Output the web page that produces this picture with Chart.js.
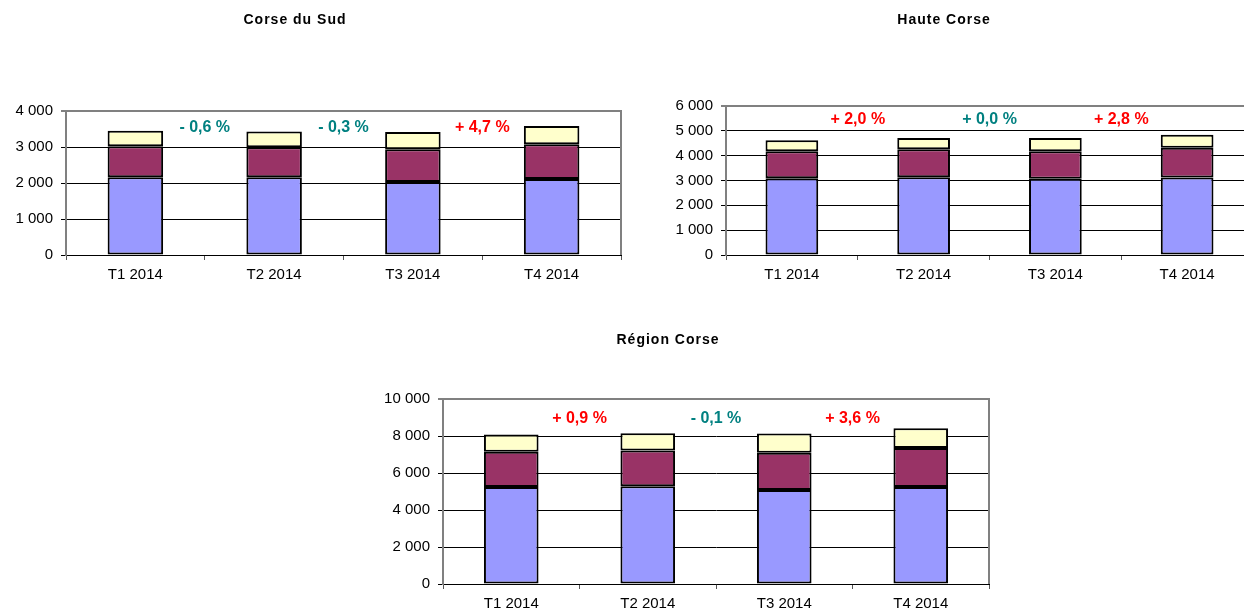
<!DOCTYPE html>
<html>
<head>
<meta charset="utf-8">
<script src="https://cdn.jsdelivr.net/npm/chart.js@4"></script>
<style>
  html, body { margin: 0; padding: 0; background: #fff; overflow: hidden; width: 1244px; height: 609px; position: relative; }
  canvas { position: absolute; }
</style>
</head>
<body>
<canvas id="sud" width="640" height="300" style="left:0px;top:0px"></canvas>
<canvas id="haute" width="620" height="300" style="left:650px;top:0px"></canvas>
<canvas id="region" width="640" height="300" style="left:360px;top:320px"></canvas>
<script>
// categories
const quarters = ['T1 2014', 'T2 2014', 'T3 2014', 'T4 2014'];

// Corse du Sud
const sudBlue = [2160, 2160, 2030, 2110];
const sudMaroon = [860, 830, 910, 965];
const sudYellow = [430, 440, 480, 505];
const sudChange = [-0.6, -0.3, 4.7];
const sudTicks = ['0', '1 000', '2 000', '3 000', '4 000'];

// Haute Corse
const hauteBlue = [3090, 3130, 3070, 3120];
const hauteMaroon = [1090, 1130, 1110, 1200];
const hauteYellow = [440, 450, 530, 520];
const hauteChange = [2.0, 0.0, 2.8];
const hauteTicks = ['0', '1 000', '2 000', '3 000', '4 000', '5 000', '6 000'];

// Région Corse
const regionBlue = [5250, 5290, 5080, 5250];
const regionMaroon = [1900, 1920, 2020, 2100];
const regionYellow = [930, 940, 1040, 1070];
const regionChange = [0.9, -0.1, 3.6];
const regionTicks = ['0', '2 000', '4 000', '6 000', '8 000', '10 000'];

const BLUE = '#9999FF', MAROON = '#993366', YELLOW = '#FFFFCC';

function fmtChange(v) {
  const s = Math.abs(v).toFixed(1).replace('.', ',');
  return (v < 0 ? '- ' : '+ ') + s + ' %';
}

const panelPlugin = {
  id: 'panel',
  afterDraw(chart, args, opts) {
    const ctx = chart.ctx;
    const area = chart.chartArea;
    const xs = chart.scales.x;
    ctx.save();
    // right border of the plot area
    ctx.strokeStyle = '#808080';
    ctx.lineWidth = 2;
    ctx.beginPath();
    ctx.moveTo(area.right, area.top - 1);
    ctx.lineTo(area.right, area.bottom);
    ctx.stroke();
    // title
    ctx.fillStyle = '#000';
    ctx.font = 'bold 14px "Liberation Sans", Arial, sans-serif';
    ctx.letterSpacing = '1px';
    ctx.textAlign = 'center';
    ctx.textBaseline = 'middle';
    ctx.fillText(opts.title, opts.titleX, opts.titleY);
    ctx.letterSpacing = '0px';
    // change labels between bars
    ctx.font = 'bold 16px "Liberation Sans", Arial, sans-serif';
    opts.changes.forEach((v, i) => {
      const x = (xs.getPixelForValue(i) + xs.getPixelForValue(i + 1)) / 2;
      ctx.fillStyle = v > 0 ? '#FF0000' : '#008080';
      ctx.fillText(fmtChange(v), x, area.top + opts.labelOffset);
    });
    ctx.restore();
  }
};

function makeChart(id, blue, maroon, yellow, changes, ticks, cfg) {
  const ds = (data, color) => ({
    data: data,
    backgroundColor: color,
    borderColor: '#000',
    borderWidth: 2,
    borderSkipped: false,
    inflateAmount: 0,
    barPercentage: 0.4,
    categoryPercentage: 1
  });
  return new Chart(document.getElementById(id), {
    type: 'bar',
    data: {
      labels: quarters,
      datasets: [ds(blue, BLUE), ds(maroon, MAROON), ds(yellow, YELLOW)]
    },
    plugins: [panelPlugin],
    options: {
      responsive: false,
      animation: false,
      layout: { padding: cfg.padding },
      plugins: {
        legend: { display: false },
        tooltip: { enabled: false },
        panel: {
          title: cfg.title, titleX: cfg.titleX, titleY: cfg.titleY,
          changes: changes, labelOffset: cfg.labelOffset
        }
      },
      scales: {
        x: {
          stacked: true,
          afterFit: s => { s.height = 30; },
          grid: { drawOnChartArea: false, drawTicks: true, tickLength: 5, color: '#555', offset: true },
          border: { color: '#000', width: 1 },
          ticks: { color: '#000', padding: 6, font: { family: '"Liberation Sans", Arial, sans-serif', size: 15 } }
        },
        y: {
          stacked: true,
          min: 0,
          max: cfg.max,
          afterFit: s => { s.width = cfg.yWidth; },
          grid: {
            tickLength: 5,
            color: c => (c.tick && c.tick.value === cfg.max) ? '#808080' : '#000',
            lineWidth: c => (c.tick && c.tick.value === cfg.max) ? 2 : 1
          },
          border: { color: '#808080', width: 2 },
          ticks: {
            stepSize: cfg.step,
            padding: 8,
            color: '#000',
            font: { family: '"Liberation Sans", Arial, sans-serif', size: 15 },
            callback: (v, i) => ticks[i]
          }
        }
      }
    }
  });
}

makeChart('sud', sudBlue, sudMaroon, sudYellow, sudChange, sudTicks, {
  title: 'Corse du Sud', titleX: 295, titleY: 20,
  max: 4000, step: 1000, yWidth: 66, labelOffset: 17,
  padding: { top: 111, left: 0, right: 19, bottom: 15 }
});

makeChart('haute', hauteBlue, hauteMaroon, hauteYellow, hauteChange, hauteTicks, {
  title: 'Haute Corse', titleX: 294, titleY: 20,
  max: 6000, step: 1000, yWidth: 76, labelOffset: 14,
  padding: { top: 106, left: 0, right: 17, bottom: 15 }
});

makeChart('region', regionBlue, regionMaroon, regionYellow, regionChange, regionTicks, {
  title: 'Région Corse', titleX: 308, titleY: 20,
  max: 10000, step: 2000, yWidth: 83, labelOffset: 20,
  padding: { top: 79, left: 0, right: 11, bottom: 6 }
});
</script>
</body>
</html>
